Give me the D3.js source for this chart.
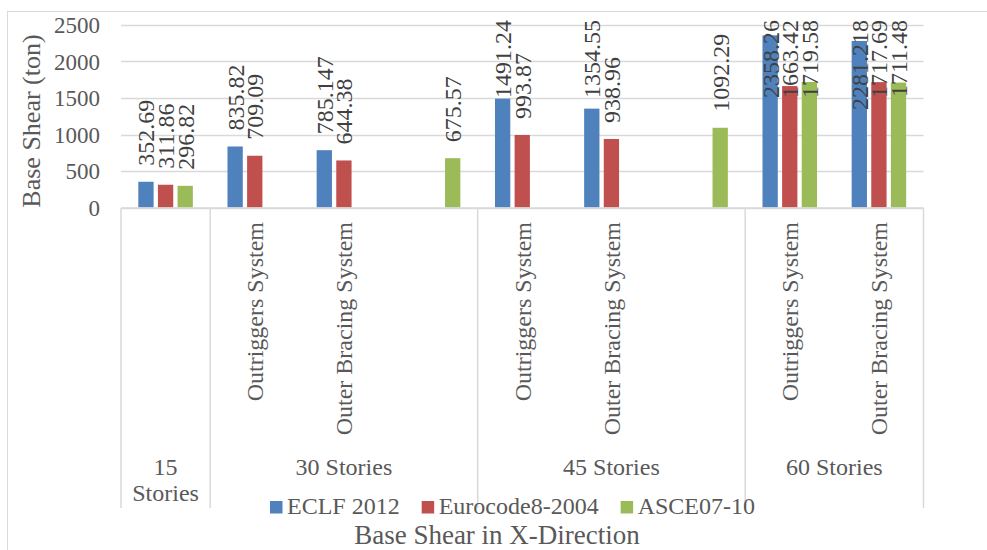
<!DOCTYPE html>
<html>
<head>
<meta charset="utf-8">
<script src="https://cdn.jsdelivr.net/npm/d3@7"></script>
<style>
  body { margin: 0; background: #fff; }
  text { font-family: "Liberation Serif", "Times New Roman", serif; }
</style>
</head>
<body>
<div id="chart"></div>
<script>
// chart data
const storyGroups = ["15 Stories", "30 Stories", "45 Stories", "60 Stories"];
const leafGroup = [0, 1, 1, 1, 2, 2, 2, 3, 3];
const leafSystem = ["", "Outriggers System", "Outer Bracing System", "",
                    "Outriggers System", "Outer Bracing System", "",
                    "Outriggers System", "Outer Bracing System"];
const seriesNames = ["ECLF 2012", "Eurocode8-2004", "ASCE07-10"];
const eclf = [352.69, 835.82, 785.147, null, 1491.24, 1354.55, null, 2358.26, 2281.218];
const euro = [311.86, 709.09, 644.38, null, 993.87, 938.96, null, 1663.42, 1717.69];
const asce = [296.82, null, null, 675.57, null, null, 1092.29, 1719.58, 1711.48];
const yTicks = [0, 500, 1000, 1500, 2000, 2500];

const width = 987, height = 550;
const colors = ["#4f81bd", "#c0504d", "#9bbb59"];
const gridColor = "#d9d9d9";
const textColor = "#595959";

const svg = d3.select("#chart")
  .append("svg")
    .attr("width", width)
    .attr("height", height);

// outer chart border (cut off on right and bottom)
svg.append("rect")
  .attr("x", 7.5).attr("y", 11.5)
  .attr("width", 1100).attr("height", 700)
  .attr("fill", "none")
  .attr("stroke", gridColor);

// scales
const x = d3.scaleBand()
  .domain(d3.range(leafSystem.length))
  .range([121, 923.5]);

const xInner = d3.scaleBand()
  .domain(seriesNames)
  .range([0, x.bandwidth()])
  .paddingInner(0.22)
  .paddingOuter(0.883);

const y = d3.scaleLinear()
  .domain([0, 2500])
  .range([207.5, 25]);

// gridlines
svg.append("g")
  .selectAll("line")
  .data(yTicks)
  .join("line")
    .attr("x1", 121).attr("x2", 923.5)
    .attr("y1", d => Math.round(y(d)) + 0.5)
    .attr("y2", d => Math.round(y(d)) + 0.5)
    .attr("stroke", gridColor)
    .attr("stroke-width", 1.5);

// y tick labels
svg.append("g")
  .selectAll("text")
  .data(yTicks)
  .join("text")
    .attr("x", 100)
    .attr("y", d => y(d))
    .attr("dy", "0.35em")
    .attr("text-anchor", "end")
    .attr("fill", textColor)
    .style("font-size", "23px")
    .text(d => d);

// y axis title
svg.append("text")
  .attr("transform", "translate(40,121) rotate(-90)")
  .attr("text-anchor", "middle")
  .attr("fill", textColor)
  .style("font-size", "26px")
  .text("Base Shear (ton)");

// bars
const series = [eclf, euro, asce];
const barData = [];
series.forEach((vals, s) => {
  vals.forEach((v, i) => {
    if (v != null) barData.push({ i, s, v });
  });
});

svg.append("g")
  .selectAll("rect")
  .data(barData)
  .join("rect")
    .attr("x", d => x(d.i) + xInner(seriesNames[d.s]))
    .attr("y", d => y(d.v))
    .attr("width", xInner.bandwidth())
    .attr("height", d => y(0) - y(d.v))
    .attr("fill", d => colors[d.s]);

// data labels, rotated, kept below the top of the chart
const labels = svg.append("g")
  .selectAll("text")
  .data(barData)
  .join("text")
    .attr("text-anchor", "start")
    .attr("dy", "0.35em")
    .attr("fill", "#404040")
    .style("font-size", "24px")
    .text(d => String(d.v));

labels.attr("transform", function(d) {
  const len = this.getComputedTextLength();
  const cx = x(d.i) + xInner(seriesNames[d.s]) + xInner.bandwidth() / 2;
  const bottom = Math.max(y(d.v) - 16, 20 + len);
  return `translate(${cx},${bottom}) rotate(-90)`;
});

// category axis line and group separators
const groupBounds = [0, 1, 4, 7, 9];
const xEdge = i => i < leafSystem.length ? x(i) : x.range()[1];

svg.append("line")
  .attr("x1", 121).attr("x2", 923.5)
  .attr("y1", 208).attr("y2", 208)
  .attr("stroke", gridColor)
  .attr("stroke-width", 1.5);

svg.append("g")
  .selectAll("line")
  .data(groupBounds)
  .join("line")
    .attr("x1", d => xEdge(d)).attr("x2", d => xEdge(d))
    .attr("y1", 208).attr("y2", 508)
    .attr("stroke", gridColor)
    .attr("stroke-width", 1.5);

// system labels
svg.append("g")
  .selectAll("text")
  .data(leafSystem.map((t, i) => ({ t, i })).filter(d => d.t))
  .join("text")
    .attr("transform", d => `translate(${x(d.i) + x.bandwidth() / 2},222) rotate(-90)`)
    .attr("text-anchor", "end")
    .attr("dy", "0.35em")
    .attr("fill", textColor)
    .style("font-size", "24px")
    .text(d => d.t);

// story group labels
const groupText = svg.append("g")
  .selectAll("text")
  .data(storyGroups.map((g, k) => ({ g, k })))
  .join("text")
    .attr("text-anchor", "middle")
    .attr("fill", textColor)
    .style("font-size", "24px")
    .attr("x", d => (xEdge(groupBounds[d.k]) + xEdge(groupBounds[d.k + 1])) / 2)
    .attr("y", 467);

groupText.each(function(d) {
  const el = d3.select(this);
  const single = groupBounds[d.k + 1] - groupBounds[d.k] === 1;
  const lines = single ? d.g.split(" ") : [d.g];
  lines.forEach((ln, j) => {
    el.append("tspan")
      .attr("x", el.attr("x"))
      .attr("dy", j === 0 ? "0.35em" : "26px")
      .text(ln);
  });
});

// legend
const legend = svg.append("g");
let lx = 270;
seriesNames.forEach((name, s) => {
  legend.append("rect")
    .attr("x", lx).attr("y", 501)
    .attr("width", 12.5).attr("height", 12.5)
    .attr("fill", colors[s]);
  const t = legend.append("text")
    .attr("x", lx + 17).attr("y", 514)
    .attr("fill", textColor)
    .style("font-size", "24px")
    .text(name);
  lx += 17 + t.node().getComputedTextLength() + 22;
});

// x axis title
svg.append("text")
  .attr("x", 497).attr("y", 544)
  .attr("text-anchor", "middle")
  .attr("fill", textColor)
  .style("font-size", "27px")
  .text("Base Shear in X-Direction");
</script>
</body>
</html>
